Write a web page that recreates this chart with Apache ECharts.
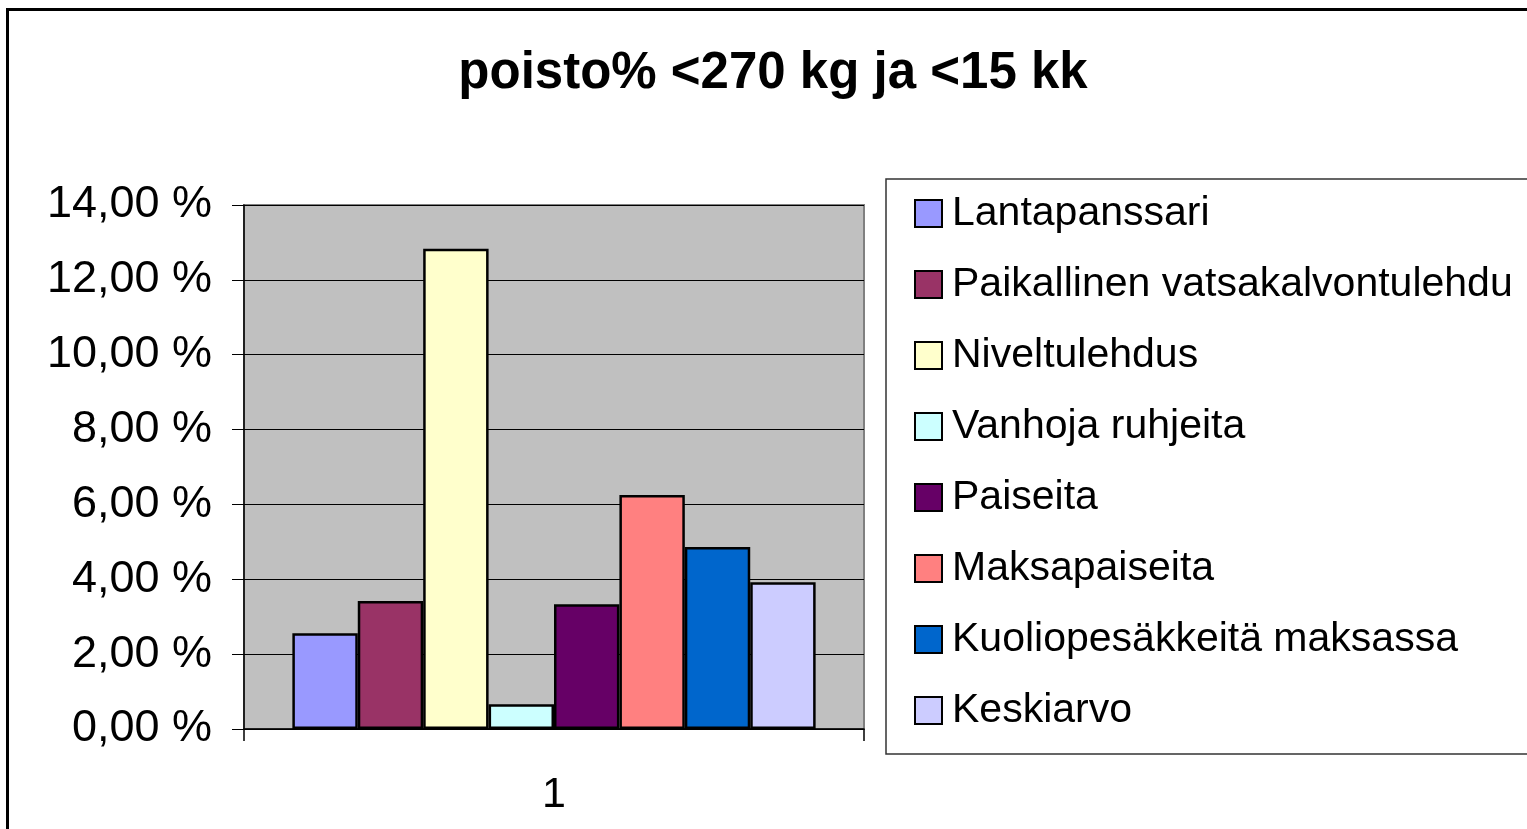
<!DOCTYPE html>
<html>
<head>
<meta charset="utf-8">
<style>
html,body{margin:0;padding:0;background:#fff;}
#chart{width:1527px;height:829px;}
</style>
<script src="https://cdn.jsdelivr.net/npm/echarts@6/dist/echarts.min.js"></script>
</head>
<body>
<div id="chart"></div>
<script>
const titleText = 'poisto% <270 kg ja <15 kk';
const categories = ['1'];
const seriesNames = ['Lantapanssari','Paikallinen vatsakalvontulehdu','Niveltulehdus','Vanhoja ruhjeita','Paiseita','Maksapaiseita','Kuoliopesäkkeitä maksassa','Keskiarvo'];
const seriesValues = [2.56, 3.42, 12.83, 0.66, 3.33, 6.25, 4.86, 3.92];
const seriesColors = ['#9999FF','#993366','#FFFFCC','#CCFFFF','#660066','#FF8080','#0066CC','#CCCCFF'];
const yMin = 0, yMax = 14, yInterval = 2;

const FONT = '"Liberation Sans", Arial, sans-serif';
const chart = echarts.init(document.getElementById('chart'), null, {renderer:'canvas'});

const series = seriesNames.map((name, i) => ({
  name: name,
  type: 'bar',
  data: [seriesValues[i]],
  barGap: '0%',
  barCategoryGap: '15.6%',
  itemStyle: { color: seriesColors[i], borderColor: '#000', borderWidth: 2.5 },
  emphasis: { disabled: true },
  animation: false
}));

chart.setOption({
  animation: false,
  backgroundColor: '#fff',
  title: {
    text: titleText,
    left: 768,
    top: 43,
    textAlign: 'center',
    textStyle: { fontFamily: FONT, fontSize: 51, fontWeight: 'bold', color: '#000' }
  },
  graphic: [{
    type: 'rect',
    shape: { x: 7.5, y: 9.5, width: 1700, height: 1000 },
    style: { fill: null, stroke: '#000', lineWidth: 3 },
    z: 100
  }],
  legend: {
    orient: 'vertical',
    left: 886,
    top: 179,
    padding: [14, 40, 23, 28],
    itemGap: 30,
    itemWidth: 27,
    itemHeight: 27,
    icon: 'rect',
    borderColor: '#333',
    borderWidth: 1.5,
    backgroundColor: '#fff',
    selectedMode: false,
    textStyle: { fontFamily: FONT, fontSize: 41, color: '#000', padding: [0,0,0,5] },
    data: seriesNames
  },
  grid: {
    left: 244, top: 205, right: 663, bottom: 100,
    show: true, backgroundColor: '#C0C0C0', borderColor: '#808080', borderWidth: 2
  },
  xAxis: {
    type: 'category',
    data: categories,
    axisLine: { show: true, lineStyle: { color: '#000', width: 1.5 } },
    axisTick: { show: true, length: 12, alignWithLabel: false, lineStyle: { color: '#000', width: 1.5 } },
    axisLabel: { fontFamily: FONT, fontSize: 43, color: '#000', margin: 45 },
    splitLine: { show: false }
  },
  yAxis: {
    type: 'value',
    min: yMin, max: yMax, interval: yInterval,
    axisLine: { show: true, lineStyle: { color: '#000', width: 1.5 } },
    axisTick: { show: true, length: 12, lineStyle: { color: '#000', width: 1 } },
    axisLabel: {
      fontFamily: FONT, fontSize: 45, color: '#000', margin: 32,
      formatter: v => v.toFixed(2).replace('.', ',') + ' %'
    },
    splitLine: { show: true, lineStyle: { color: '#000', width: 1 } }
  },
  series: series
});
</script>
</body>
</html>
